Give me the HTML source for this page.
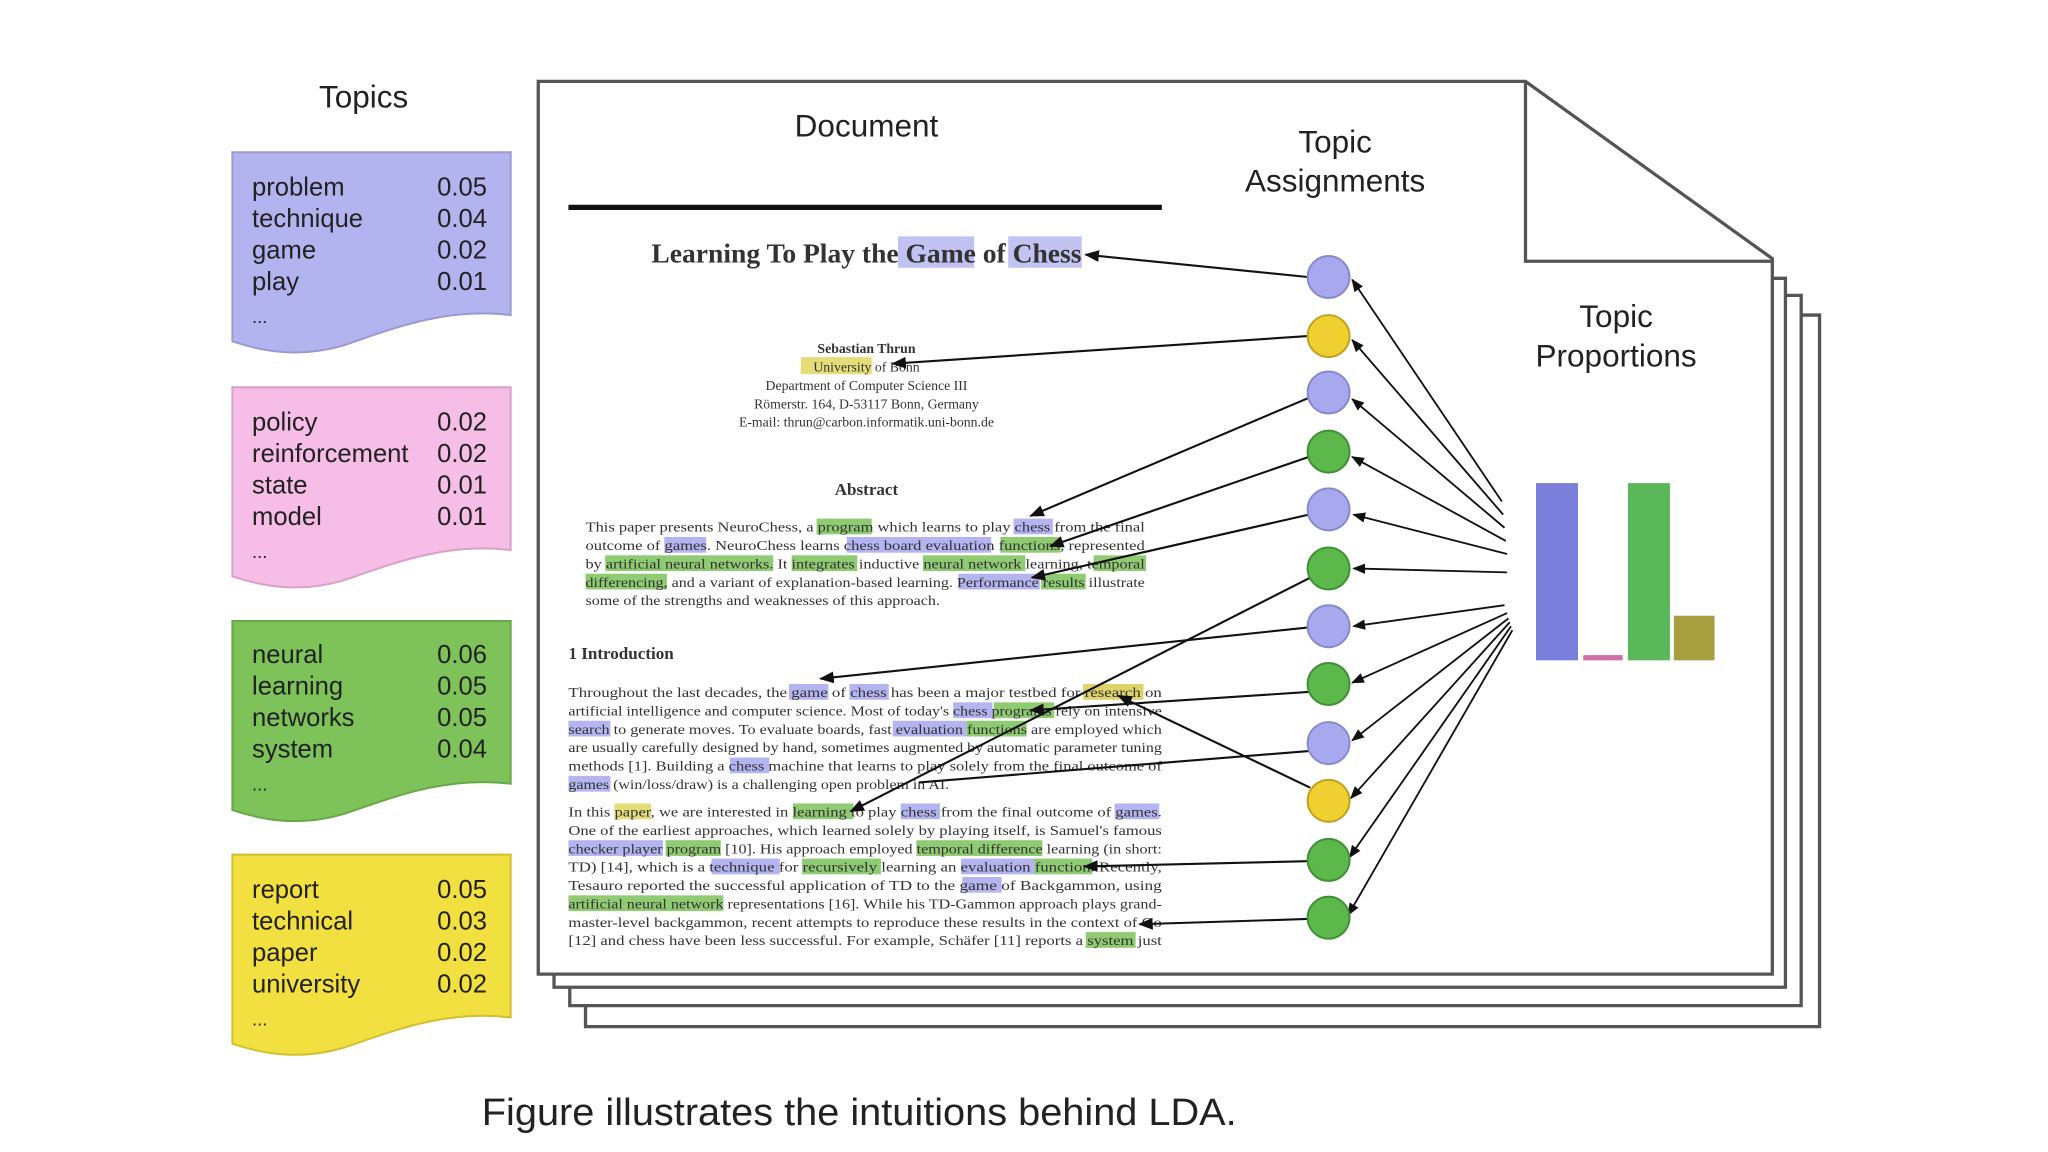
<!DOCTYPE html>
<html><head><meta charset="utf-8"><style>
html,body{margin:0;padding:0;background:#fff;}
svg{display:block;}
.s{font-family:"Liberation Sans",sans-serif;fill:#222;}
.r{font-family:"Liberation Serif",serif;fill:#333;}
</style></head><body>
<svg width="2048" height="1152" viewBox="0 0 1560 877.5" xmlns="http://www.w3.org/2000/svg">
<defs>
<marker id="a" viewBox="0 0 10 10" refX="9" refY="5" markerWidth="7" markerHeight="7" orient="auto-start-reverse"><path d="M0,1 L10,5 L0,9 Z" fill="#111"/></marker>
</defs>
<text x="277" y="82" class="s" font-size="24" text-anchor="middle">Topics</text>
<g stroke-width="1.5">
<path d="M177,116 H389 V240 C340,234 300,250 262,263 C225,274 195,266 177,260 Z" fill="#b3b3f0" stroke="#9a9ad0"/>
<path d="M177,295 H389 V419 C340,413 300,429 262,442 C225,453 195,445 177,439 Z" fill="#f6bde6" stroke="#d8a0c8"/>
<path d="M177,473 H389 V597 C340,591 300,607 262,620 C225,631 195,623 177,617 Z" fill="#7dc35a" stroke="#68a848"/>
<path d="M177,651 H389 V775 C340,769 300,785 262,798 C225,809 195,801 177,795 Z" fill="#f2e040" stroke="#d0c030"/>
</g>
<g class="s" font-size="19.5">
<text x="192" y="149">problem</text><text x="333" y="149">0.05</text>
<text x="192" y="173">technique</text><text x="333" y="173">0.04</text>
<text x="192" y="197">game</text><text x="333" y="197">0.02</text>
<text x="192" y="221">play</text><text x="333" y="221">0.01</text>
<text x="192" y="246" font-size="14">...</text>
<text x="192" y="328">policy</text><text x="333" y="328">0.02</text>
<text x="192" y="352">reinforcement</text><text x="333" y="352">0.02</text>
<text x="192" y="376">state</text><text x="333" y="376">0.01</text>
<text x="192" y="400">model</text><text x="333" y="400">0.01</text>
<text x="192" y="425" font-size="14">...</text>
<text x="192" y="505">neural</text><text x="333" y="505">0.06</text>
<text x="192" y="529">learning</text><text x="333" y="529">0.05</text>
<text x="192" y="553">networks</text><text x="333" y="553">0.05</text>
<text x="192" y="577">system</text><text x="333" y="577">0.04</text>
<text x="192" y="602" font-size="14">...</text>
<text x="192" y="684">report</text><text x="333" y="684">0.05</text>
<text x="192" y="708">technical</text><text x="333" y="708">0.03</text>
<text x="192" y="732">paper</text><text x="333" y="732">0.02</text>
<text x="192" y="756">university</text><text x="333" y="756">0.02</text>
<text x="192" y="781" font-size="14">...</text>
</g>
<g fill="#fff" stroke="#555" stroke-width="2.5">
<path d="M446,240 H1386 V782 H446 Z"/>
<path d="M434,225 H1372 V766 H434 Z"/>
<path d="M422,212 H1360 V752 H422 Z"/>
<path d="M410,62 H1162 L1350,197 V742 H410 Z"/>
<path d="M1162,62 V199 H1350" fill="none"/>
</g>
<text x="660" y="104" class="s" font-size="24" text-anchor="middle">Document</text>
<line x1="433" y1="158" x2="885" y2="158" stroke="#111" stroke-width="4"/>
<text x="1017" y="116" class="s" font-size="24" text-anchor="middle">Topic</text>
<text x="1017" y="146" class="s" font-size="24" text-anchor="middle">Assignments</text>
<text x="1231" y="249" class="s" font-size="24" text-anchor="middle">Topic</text>
<text x="1231" y="279" class="s" font-size="24" text-anchor="middle">Proportions</text>
<rect x="1170" y="368" width="32" height="135" fill="#7b7fdc"/>
<rect x="1206" y="499" width="30" height="4" fill="#d070a8"/>
<rect x="1240" y="368" width="32" height="135" fill="#5ab85a"/>
<rect x="1275" y="469" width="31" height="34" fill="#a8a040"/>
<g opacity="0.85">
<rect x="684" y="180" width="58" height="24" fill="#b8b8f0"/>
<rect x="768" y="180" width="56" height="24" fill="#b8b8f0"/>
<rect x="610" y="272" width="54" height="13" fill="#e0d860"/>
<rect x="622" y="395" width="42" height="12" fill="#7cc25a"/><rect x="772" y="395" width="30" height="12" fill="#a8a8ee"/>
<rect x="506" y="409" width="32" height="12" fill="#a8a8ee"/><rect x="645" y="409" width="110" height="12" fill="#a8a8ee"/><rect x="762" y="409" width="46" height="12" fill="#7cc25a"/>
<rect x="461" y="423" width="128" height="12" fill="#7cc25a"/><rect x="603" y="423" width="50" height="12" fill="#7cc25a"/><rect x="703" y="423" width="78" height="12" fill="#7cc25a"/><rect x="833" y="423" width="40" height="12" fill="#7cc25a"/>
<rect x="446" y="437" width="62" height="12" fill="#7cc25a"/><rect x="730" y="437" width="62" height="12" fill="#a8a8ee"/><rect x="793" y="437" width="34" height="12" fill="#7cc25a"/>
<rect x="601" y="521" width="30" height="12" fill="#a8a8ee"/><rect x="647" y="521" width="30" height="12" fill="#a8a8ee"/><rect x="825" y="521" width="46" height="12" fill="#d8cc50"/>
<rect x="726" y="535" width="30" height="12" fill="#a8a8ee"/><rect x="757" y="535" width="46" height="12" fill="#7cc25a"/>
<rect x="433" y="549" width="32" height="12" fill="#a8a8ee"/><rect x="680" y="549" width="56" height="12" fill="#a8a8ee"/><rect x="736" y="549" width="46" height="12" fill="#7cc25a"/>
<rect x="556" y="577" width="30" height="12" fill="#a8a8ee"/>
<rect x="433" y="591" width="32" height="12" fill="#a8a8ee"/>
<rect x="468" y="612" width="28" height="12" fill="#e0d860"/><rect x="604" y="612" width="46" height="12" fill="#7cc25a"/><rect x="686" y="612" width="30" height="12" fill="#a8a8ee"/><rect x="849" y="612" width="34" height="12" fill="#a8a8ee"/>
<rect x="433" y="640" width="72" height="12" fill="#a8a8ee"/><rect x="507" y="640" width="42" height="12" fill="#7cc25a"/><rect x="698" y="640" width="96" height="12" fill="#7cc25a"/>
<rect x="542" y="654" width="52" height="12" fill="#a8a8ee"/><rect x="611" y="654" width="60" height="12" fill="#7cc25a"/><rect x="732" y="654" width="56" height="12" fill="#a8a8ee"/><rect x="788" y="654" width="44" height="12" fill="#7cc25a"/>
<rect x="733" y="668" width="30" height="12" fill="#a8a8ee"/>
<rect x="433" y="682" width="118" height="12" fill="#7cc25a"/>
<rect x="827" y="710" width="38" height="12" fill="#7cc25a"/>
</g>
<text x="660" y="200" class="r" font-size="21" font-weight="bold" text-anchor="middle" fill="#222">Learning To Play the Game of Chess</text>
<g class="r" text-anchor="middle" font-size="10.5">
<text x="660" y="269" font-weight="bold">Sebastian Thrun</text>
<text x="660" y="283">University of Bonn</text>
<text x="660" y="297">Department of Computer Science III</text>
<text x="660" y="311">Römerstr. 164, D-53117 Bonn, Germany</text>
<text x="660" y="325">E-mail: thrun@carbon.informatik.uni-bonn.de</text>
<text x="660" y="377" font-size="13" font-weight="bold">Abstract</text>
</g>
<g class="r" font-size="10.5">
<text x="446" y="405" textLength="426" lengthAdjust="spacingAndGlyphs">This paper presents NeuroChess, a program which learns to play chess from the final</text>
<text x="446" y="419" textLength="426" lengthAdjust="spacingAndGlyphs">outcome of games. NeuroChess learns chess board evaluation functions, represented</text>
<text x="446" y="433" textLength="426" lengthAdjust="spacingAndGlyphs">by artificial neural networks. It integrates inductive neural network learning, temporal</text>
<text x="446" y="447" textLength="426" lengthAdjust="spacingAndGlyphs">differencing, and a variant of explanation-based learning. Performance results illustrate</text>
<text x="446" y="461" textLength="270" lengthAdjust="spacingAndGlyphs">some of the strengths and weaknesses of this approach.</text>
<text x="433" y="502" font-size="13" font-weight="bold">1    Introduction</text>
<text x="433" y="531" textLength="452" lengthAdjust="spacingAndGlyphs">Throughout the last decades, the game of chess has been a major testbed for research on</text>
<text x="433" y="545" textLength="452" lengthAdjust="spacingAndGlyphs">artificial intelligence and computer science. Most of today's chess programs rely on intensive</text>
<text x="433" y="559" textLength="452" lengthAdjust="spacingAndGlyphs">search to generate moves. To evaluate boards, fast evaluation functions are employed which</text>
<text x="433" y="573" textLength="452" lengthAdjust="spacingAndGlyphs">are usually carefully designed by hand, sometimes augmented by automatic parameter tuning</text>
<text x="433" y="587" textLength="452" lengthAdjust="spacingAndGlyphs">methods [1]. Building a chess machine that learns to play solely from the final outcome of</text>
<text x="433" y="601" textLength="290" lengthAdjust="spacingAndGlyphs">games (win/loss/draw) is a challenging open problem in AI.</text>
<text x="433" y="622" textLength="452" lengthAdjust="spacingAndGlyphs">In this paper, we are interested in learning to play chess from the final outcome of games.</text>
<text x="433" y="636" textLength="452" lengthAdjust="spacingAndGlyphs">One of the earliest approaches, which learned solely by playing itself, is Samuel's famous</text>
<text x="433" y="650" textLength="452" lengthAdjust="spacingAndGlyphs">checker player program [10]. His approach employed temporal difference learning (in short:</text>
<text x="433" y="664" textLength="452" lengthAdjust="spacingAndGlyphs">TD) [14], which is a technique for recursively learning an evaluation function. Recently,</text>
<text x="433" y="678" textLength="452" lengthAdjust="spacingAndGlyphs">Tesauro reported the successful application of TD to the game of Backgammon, using</text>
<text x="433" y="692" textLength="452" lengthAdjust="spacingAndGlyphs">artificial neural network representations [16]. While his TD-Gammon approach plays grand-</text>
<text x="433" y="706" textLength="452" lengthAdjust="spacingAndGlyphs">master-level backgammon, recent attempts to reproduce these results in the context of Go</text>
<text x="433" y="720" textLength="452" lengthAdjust="spacingAndGlyphs">[12] and chess have been less successful. For example, Schäfer [11] reports a system just</text>
</g>
<g stroke="#111" stroke-width="1.6" fill="none" marker-end="url(#a)">
<line x1="996" y1="211" x2="827" y2="194"/>
<line x1="996" y1="256" x2="680" y2="277"/>
<line x1="997" y1="303" x2="785" y2="393"/>
<line x1="997" y1="348" x2="800" y2="416"/>
<line x1="997" y1="392" x2="786" y2="440"/>
<line x1="998" y1="440" x2="648" y2="618"/>
<line x1="996" y1="478" x2="625" y2="517"/>
<line x1="998" y1="527" x2="785" y2="541"/>
<line x1="998" y1="600" x2="852" y2="530"/>
<line x1="996" y1="656" x2="826" y2="660"/>
<line x1="996" y1="700" x2="868" y2="704"/>
<line x1="998" y1="572" x2="700" y2="596" marker-end="none"/>
</g>
<g stroke="#111" stroke-width="1.4" fill="none" marker-end="url(#a)">
<line x1="1144" y1="382" x2="1030" y2="213"/>
<line x1="1145" y1="392" x2="1030" y2="259"/>
<line x1="1146" y1="402" x2="1030" y2="304"/>
<line x1="1147" y1="412" x2="1030" y2="348"/>
<line x1="1148" y1="422" x2="1031" y2="392"/>
<line x1="1148" y1="436" x2="1031" y2="433"/>
<line x1="1146" y1="461" x2="1031" y2="477"/>
<line x1="1148" y1="467" x2="1030" y2="520"/>
<line x1="1149" y1="471" x2="1030" y2="564"/>
<line x1="1150" y1="474" x2="1029" y2="608"/>
<line x1="1151" y1="477" x2="1028" y2="653"/>
<line x1="1152" y1="480" x2="1027" y2="697"/>
</g>
<g stroke-width="1.5">
<circle cx="1012" cy="211" r="16" fill="#a8a8ee" stroke="#8888cc"/>
<circle cx="1012" cy="256" r="16" fill="#f0cf30" stroke="#c0a020"/>
<circle cx="1012" cy="299" r="16" fill="#a8a8ee" stroke="#8888cc"/>
<circle cx="1012" cy="344" r="16" fill="#5cb84a" stroke="#3f9035"/>
<circle cx="1012" cy="388" r="16" fill="#a8a8ee" stroke="#8888cc"/>
<circle cx="1012" cy="433" r="16" fill="#5cb84a" stroke="#3f9035"/>
<circle cx="1012" cy="477" r="16" fill="#a8a8ee" stroke="#8888cc"/>
<circle cx="1012" cy="521" r="16" fill="#5cb84a" stroke="#3f9035"/>
<circle cx="1012" cy="566" r="16" fill="#a8a8ee" stroke="#8888cc"/>
<circle cx="1012" cy="610" r="16" fill="#f0cf30" stroke="#c0a020"/>
<circle cx="1012" cy="655" r="16" fill="#5cb84a" stroke="#3f9035"/>
<circle cx="1012" cy="699" r="16" fill="#5cb84a" stroke="#3f9035"/>
</g>
<text x="367" y="857" class="s" font-size="29" fill="#000" textLength="575" lengthAdjust="spacingAndGlyphs">Figure illustrates the intuitions behind LDA.</text>
</svg>
</body></html>
